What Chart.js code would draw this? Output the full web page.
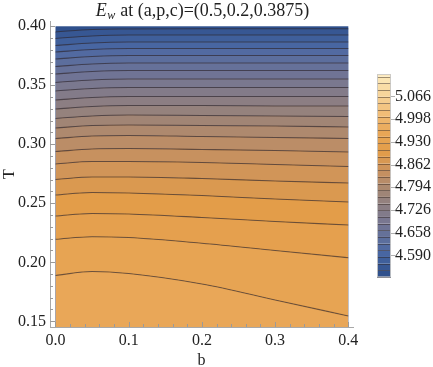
<!DOCTYPE html>
<html>
<head>
<meta charset="utf-8">
<script src="https://cdn.jsdelivr.net/npm/chart.js@4.4.1/dist/chart.umd.min.js"></script>
<style>
html, body { margin: 0; padding: 0; background: #fff; }
</style>
</head>
<body>
<canvas id="contour" width="433" height="367"></canvas>
<script>
// sample positions along b where the contour lines were read
var bValues = [0, 0.05, 0.1, 0.2, 0.3, 0.4];

// contour lines, T at each b (bottom line first)
var line01 = [0.1888, 0.1922, 0.1905, 0.1816, 0.1681, 0.1545];
var line02 = [0.2195, 0.2217, 0.2210, 0.2161, 0.2100, 0.2039];
var line03 = [0.2392, 0.2414, 0.2409, 0.2380, 0.2346, 0.2316];
var line04 = [0.2570, 0.2592, 0.2587, 0.2566, 0.2536, 0.2511];
var line05 = [0.2702, 0.2723, 0.2723, 0.2710, 0.2689, 0.2672];
var line06 = [0.2833, 0.2854, 0.2854, 0.2846, 0.2829, 0.2812];
var line07 = [0.2939, 0.2960, 0.2964, 0.2956, 0.2947, 0.2935];
var line08 = [0.3049, 0.3070, 0.3075, 0.3066, 0.3058, 0.3049];
var line09 = [0.3138, 0.3159, 0.3164, 0.3159, 0.3155, 0.3147];
var line10 = [0.3219, 0.3240, 0.3248, 0.3244, 0.3240, 0.3236];
var line11 = [0.3299, 0.3320, 0.3329, 0.3329, 0.3325, 0.3325];
var line12 = [0.3375, 0.3397, 0.3405, 0.3405, 0.3405, 0.3405];
var line13 = [0.3452, 0.3473, 0.3481, 0.3481, 0.3481, 0.3481];
var line14 = [0.3524, 0.3545, 0.3553, 0.3553, 0.3553, 0.3553];
var line15 = [0.3596, 0.3617, 0.3625, 0.3625, 0.3625, 0.3625];
var line16 = [0.3659, 0.3681, 0.3689, 0.3689, 0.3689, 0.3689];
var line17 = [0.3723, 0.3744, 0.3753, 0.3753, 0.3753, 0.3753];
var line18 = [0.3782, 0.3803, 0.3812, 0.3812, 0.3812, 0.3812];
var line19 = [0.3837, 0.3859, 0.3867, 0.3867, 0.3867, 0.3867];
var line20 = [0.3897, 0.3918, 0.3926, 0.3926, 0.3926, 0.3926];
var line21 = [0.3952, 0.3973, 0.3977, 0.3979, 0.3979, 0.3979];

// E_w value on each contour line (same order as the lines)
var contourLevels = [4.951, 4.931, 4.910, 4.890, 4.870, 4.849, 4.829, 4.809, 4.788, 4.768,
  4.748, 4.727, 4.707, 4.687, 4.666, 4.646, 4.626, 4.605, 4.585, 4.565, 4.545];

var xTicks = [0, 0.1, 0.2, 0.3, 0.4];
var yTicks = [0.15, 0.20, 0.25, 0.30, 0.35, 0.40];
var legendTicks = [4.590, 4.658, 4.726, 4.794, 4.862, 4.930, 4.998, 5.066];
var legendRange = [4.524, 5.133];

var lines = [line01, line02, line03, line04, line05, line06, line07, line08, line09, line10,
  line11, line12, line13, line14, line15, line16, line17, line18, line19, line20, line21];

var serif = "'Liberation Serif', 'Times New Roman', serif";

// colour scheme (value -> rgb), roughly Mathematica's default contour gradient
var colorStops = [
  [4.524, [42, 76, 136]],
  [4.600, [74, 104, 164]],
  [4.680, [114, 117, 148]],
  [4.760, [150, 130, 124]],
  [4.840, [200, 145, 95]],
  [4.900, [227, 157, 73]],
  [4.960, [233, 167, 87]],
  [5.030, [243, 195, 128]],
  [5.133, [253, 236, 190]]
];

function colorAt(v) {
	if (v <= colorStops[0][0]) return "rgb(" + colorStops[0][1].join(",") + ")";
	for (var i = 1; i < colorStops.length; i++) {
		if (v <= colorStops[i][0]) {
			var a = colorStops[i - 1], b = colorStops[i];
			var t = (v - a[0]) / (b[0] - a[0]);
			var c = [0, 1, 2].map(function(k) { return Math.round(a[1][k] + t * (b[1][k] - a[1][k])); });
			return "rgb(" + c.join(",") + ")";
		}
	}
	return "rgb(" + colorStops[colorStops.length - 1][1].join(",") + ")";
}

var step = contourLevels[0] - contourLevels[1];
var lineColor = "rgba(45,30,25,0.55)";

var datasets = [];
for (var i = 0; i < lines.length; i++) {
	var pts = [];
	for (var j = 0; j < bValues.length; j++) {
		pts.push({ x: bValues[j], y: lines[i][j] });
	}
	datasets.push({
		data: pts,
		borderColor: lineColor,
		borderWidth: 1.1,
		pointRadius: 0,
		cubicInterpolationMode: "monotone",
		fill: i == 0 ? "start" : "-1",
		backgroundColor: colorAt(contourLevels[i] + step / 2)
	});
}

function noPad(s) {
	s.paddingTop = 0;
	s.paddingBottom = 0;
	s.paddingLeft = 0;
	s.paddingRight = 0;
}

var contourPlugin = {
	id: "contourExtras",
	beforeDatasetsDraw: function(chart) {
		// top band (above the last contour)
		var x = chart.scales.x, y = chart.scales.y, ctx = chart.ctx;
		var l = x.getPixelForValue(bValues[0]);
		var r = x.getPixelForValue(bValues[bValues.length - 1]);
		var t = y.getPixelForValue(yTicks[yTicks.length - 1]);
		ctx.save();
		ctx.fillStyle = colorAt(contourLevels[contourLevels.length - 1] - step / 2);
		ctx.fillRect(l, t, r - l, chart.chartArea.bottom - t);
		ctx.restore();
	},
	afterDraw: function(chart) {
		var ctx = chart.ctx;
		var x = chart.scales.x, y = chart.scales.y, cb = chart.scales.cb;
		var area = chart.chartArea;
		ctx.save();

		// inward frame ticks
		ctx.strokeStyle = "#9a9a9a";
		ctx.lineWidth = 1;
		ctx.beginPath();
		for (var k = 0; k <= 20; k++) {
			var bv = k * 0.02;
			var px = Math.round(x.getPixelForValue(bv)) + 0.5;
			var len = (k % 5 == 0) ? 5 : 3;
			ctx.moveTo(px, area.bottom);
			ctx.lineTo(px, area.bottom - len);
		}
		for (var k = 0; k <= 25; k++) {
			var tv = 0.15 + k * 0.01;
			var py = Math.round(y.getPixelForValue(tv)) + 0.5;
			var len = (k % 5 == 0) ? 5 : 3;
			ctx.moveTo(area.left, py);
			ctx.lineTo(area.left + len, py);
		}
		ctx.stroke();

		// colour bar legend
		var bx = 377, bw = 14;
		var edges = [legendRange[0]];
		var lv = contourLevels[contourLevels.length - 1] - step;
		while (lv < legendRange[1]) {
			if (lv > legendRange[0]) edges.push(lv);
			lv += step;
		}
		edges.push(legendRange[1]);
		for (var e = 0; e < edges.length - 1; e++) {
			var y0 = cb.getPixelForValue(edges[e]);
			var y1 = cb.getPixelForValue(edges[e + 1]);
			ctx.fillStyle = colorAt((edges[e] + edges[e + 1]) / 2);
			ctx.fillRect(bx, y1, bw, y0 - y1);
		}
		ctx.strokeStyle = "rgba(45,30,25,0.45)";
		ctx.beginPath();
		for (var e = 1; e < edges.length - 1; e++) {
			var yy = Math.round(cb.getPixelForValue(edges[e])) + 0.5;
			ctx.moveTo(bx, yy);
			ctx.lineTo(bx + bw, yy);
		}
		ctx.stroke();
		ctx.strokeStyle = "#b0b0b0";
		ctx.beginPath();
		for (var m = 0; m < legendTicks.length; m++) {
			var ty = Math.round(cb.getPixelForValue(legendTicks[m])) + 0.5;
			ctx.moveTo(bx + bw, ty);
			ctx.lineTo(bx + bw + 4, ty);
		}
		ctx.stroke();
		ctx.strokeStyle = "rgba(200,200,200,0.9)";
		ctx.strokeRect(bx + 0.5, cb.getPixelForValue(legendRange[1]) + 0.5, bw - 1,
			cb.getPixelForValue(legendRange[0]) - cb.getPixelForValue(legendRange[1]) - 1);

		// title with italic E and subscript w
		var partE = "E", partW = "w", rest = " at (a,p,c)=(0.5,0.2,0.3875)";
		ctx.fillStyle = "#222";
		ctx.textBaseline = "alphabetic";
		ctx.font = "italic 18px " + serif;
		var wE = ctx.measureText(partE).width;
		ctx.font = "italic 12px " + serif;
		var wW = ctx.measureText(partW).width;
		ctx.font = "18px " + serif;
		var wR = ctx.measureText(rest).width;
		var cx = (area.left + area.right) / 2 + 1;
		var sx = cx - (wE + wW + 1 + wR) / 2;
		var base = 16;
		ctx.font = "italic 18px " + serif;
		ctx.fillText(partE, sx, base);
		ctx.font = "italic 12px " + serif;
		ctx.fillText(partW, sx + wE + 0.5, base + 3);
		ctx.font = "18px " + serif;
		ctx.fillText(rest, sx + wE + wW + 1, base);
		ctx.restore();
	}
};

var ctx = document.getElementById("contour").getContext("2d");
var contourChart = new Chart(ctx, {
	type: "line",
	data: { datasets: datasets },
	plugins: [contourPlugin],
	options: {
		responsive: false,
		devicePixelRatio: 1,
		animation: false,
		layout: { padding: { top: 21, left: 0, right: 0, bottom: 0 } },
		plugins: {
			legend: { display: false },
			tooltip: { enabled: false },
			title: { display: false }
		},
		scales: {
			x: {
				type: "linear",
				min: -0.0075,
				max: 0.4064,
				afterBuildTicks: function(s) { s.ticks = xTicks.map(function(v) { return { value: v }; }); },
				afterFit: function(s) { s.height = 40; noPad(s); },
				ticks: {
					callback: function(v) { return v.toFixed(1); },
					font: { family: serif, size: 16 },
					color: "#222",
					padding: 4,
					maxRotation: 0,
					autoSkip: false
				},
				grid: { drawOnChartArea: false, drawTicks: false },
				border: { color: "#a8a8a8" },
				title: {
					display: true,
					text: "b",
					font: { family: serif, size: 16 },
					color: "#222",
					padding: { top: 0, bottom: -3 }
				}
			},
			y: {
				type: "linear",
				min: 0.14517,
				max: 0.40448,
				afterBuildTicks: function(s) { s.ticks = yTicks.map(function(v) { return { value: v }; }); },
				afterFit: function(s) { s.width = 50; noPad(s); },
				ticks: {
					callback: function(v) { return v.toFixed(2); },
					font: { family: serif, size: 16 },
					color: "#222",
					padding: 4,
					autoSkip: false
				},
				grid: { drawOnChartArea: false, drawTicks: false },
				border: { color: "#a8a8a8" },
				title: {
					display: true,
					text: "T",
					font: { family: serif, size: 16 },
					color: "#222",
					padding: { top: 0, bottom: 0 }
				}
			},
			cb: {
				type: "linear",
				axis: "y",
				position: "right",
				min: 4.3752,
				max: 5.2919,
				afterBuildTicks: function(s) { s.ticks = legendTicks.map(function(v) { return { value: v }; }); },
				afterFit: function(s) { s.width = 80; noPad(s); },
				ticks: {
					callback: function(v) { return v.toFixed(3); },
					font: { family: serif, size: 16 },
					color: "#222",
					padding: 42,
					autoSkip: false
				},
				grid: { drawOnChartArea: false, drawTicks: false },
				border: { display: false }
			}
		}
	}
});
</script>
</body>
</html>
